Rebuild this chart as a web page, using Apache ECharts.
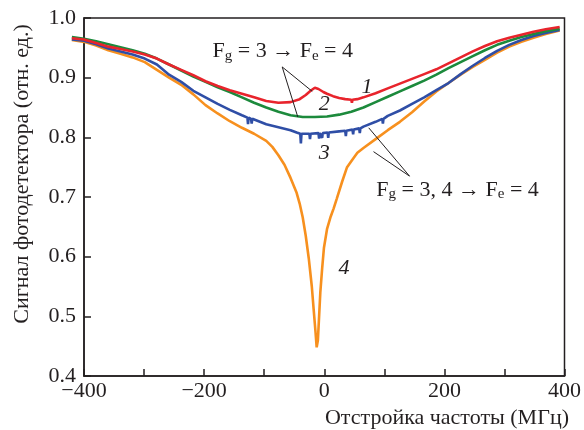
<!DOCTYPE html>
<html>
<head>
<meta charset="utf-8">
<script src="https://cdn.jsdelivr.net/npm/echarts@6/dist/echarts.min.js"></script>
<style>
  html, body { margin: 0; padding: 0; background: #fff; }
  #chart { width: 584px; height: 430px; }
</style>
</head>
<body>
<div id="chart"></div>
<script>
// Detuning (MHz) vs photodetector signal (rel. units), curves 1-4
const curve1 = [
  [-420,0.966],[-400,0.964],[-380,0.958],[-360,0.952],[-340,0.948],[-320,0.944],
  [-300,0.939],[-280,0.932],[-260,0.922],[-240,0.913],[-220,0.904],[-200,0.894],
  [-180,0.886],[-160,0.879],[-140,0.873],[-120,0.867],[-100,0.861],[-80,0.858],
  [-60,0.859],[-45,0.864],[-35,0.871],[-27,0.878],[-20,0.883],[-14,0.881],
  [-6,0.876],[0,0.873],[10,0.869],[20,0.866],[30,0.864],[40,0.863],[41,0.858],
  [42,0.863],[50,0.864],[60,0.867],[80,0.874],[100,0.882],[120,0.890],[140,0.898],
  [160,0.906],[180,0.914],[200,0.924],[220,0.934],[240,0.944],[260,0.953],
  [280,0.961],[300,0.967],[320,0.972],[340,0.977],[360,0.981],[383,0.985]
];
const curve2 = [
  [-420,0.968],[-400,0.965],[-380,0.961],[-360,0.956],[-340,0.951],[-320,0.946],
  [-300,0.940],[-280,0.932],[-260,0.922],[-240,0.912],[-220,0.902],[-200,0.893],
  [-180,0.884],[-160,0.876],[-140,0.867],[-120,0.858],[-100,0.850],[-80,0.843],
  [-60,0.837],[-40,0.834],[-20,0.834],[0,0.835],[20,0.838],[40,0.843],[60,0.850],
  [80,0.859],[100,0.868],[120,0.877],[140,0.886],[160,0.895],[180,0.905],
  [200,0.916],[220,0.926],[240,0.936],[260,0.946],[280,0.955],[300,0.962],
  [320,0.968],[340,0.973],[360,0.978],[383,0.982]
];
const curve3 = [
  [-420,0.964],[-400,0.962],[-380,0.956],[-360,0.949],[-340,0.944],[-320,0.939],
  [-300,0.932],[-280,0.922],[-260,0.905],[-240,0.893],[-220,0.878],[-200,0.867],
  [-180,0.856],[-160,0.846],[-140,0.837],[-131,0.833],[-130,0.822],[-129,0.833],
  [-125,0.831],[-124,0.823],[-123,0.831],[-100,0.822],[-80,0.817],[-60,0.812],
  [-50,0.808],[-44,0.806],[-43,0.790],[-42,0.806],[-29,0.806],[-28,0.797],
  [-27,0.806],[-14,0.807],[-13,0.798],[-12,0.807],[-9,0.807],[-8,0.799],
  [-7,0.807],[1,0.808],[2,0.799],[3,0.808],[20,0.810],[30,0.811],[31,0.802],
  [32,0.811],[42,0.813],[43,0.805],[44,0.813],[53,0.815],[54,0.807],[55,0.815],
  [60,0.818],[80,0.826],[91,0.831],[92,0.823],[93,0.831],[100,0.836],[120,0.845],
  [140,0.856],[160,0.867],[180,0.879],[200,0.891],[220,0.906],[240,0.920],
  [260,0.933],[280,0.945],[300,0.955],[320,0.963],[340,0.970],[360,0.975],[383,0.980]
];
const curve4 = [
  [-420,0.963],[-400,0.960],[-380,0.954],[-360,0.946],[-340,0.940],[-320,0.934],
  [-300,0.926],[-280,0.913],[-260,0.900],[-240,0.888],[-220,0.872],[-200,0.854],
  [-180,0.840],[-160,0.827],[-140,0.816],[-120,0.806],[-100,0.794],[-90,0.784],
  [-80,0.770],[-70,0.754],[-60,0.732],[-50,0.707],[-45,0.689],[-40,0.666],
  [-35,0.635],[-30,0.597],[-25,0.550],[-22,0.512],[-19,0.475],[-17,0.448],
  [-15,0.460],[-13,0.500],[-11,0.540],[-8,0.580],[-5,0.615],[0,0.646],[6,0.667],
  [11,0.681],[16,0.697],[25,0.726],[33,0.750],[42,0.763],[50,0.774],[60,0.782],
  [80,0.797],[100,0.812],[120,0.826],[140,0.842],[160,0.860],[180,0.877],
  [200,0.891],[220,0.905],[240,0.918],[260,0.930],[280,0.942],[300,0.952],
  [320,0.960],[340,0.967],[360,0.973],[383,0.979]
];
const xTicks = [-400, -200, 0, 200, 400];
const curveNames = ['1', '2', '3', '4'];
const curveColors = ['#e8242c', '#1c8a3c', '#2f4ea6', '#f7901e'];

const serif = '"Liberation Serif", "DejaVu Serif", serif';
const ink = '#231f20';

// Frame geometry: the visible axes run from -400 to 400 MHz; the traces start
// a little before -400, so they are drawn on a twin grid whose x range begins
// at -420 with exactly the same pixels-per-MHz scale.
const frame = { left: 84, right: 14, top: 18, bottom: 54 };
const xMin = -400, xMax = 400, traceStart = -420;
const plotWidth = 584 - frame.left - frame.right;
const pxPerMHz = plotWidth / (xMax - xMin);

const chart = echarts.init(document.getElementById('chart'), null, { renderer: 'canvas' });

// Curve 4 at the bottom of the stack, curve 1 on top
const seriesData = [curve4, curve3, curve2, curve1];
const seriesColors = [curveColors[3], curveColors[2], curveColors[1], curveColors[0]];
const seriesNames = [curveNames[3], curveNames[2], curveNames[1], curveNames[0]];

const tickFont = { color: ink, fontFamily: serif, fontSize: 22 };

chart.setOption({
  animation: false,
  backgroundColor: '#fff',
  grid: [
    Object.assign({ show: true, borderColor: ink, borderWidth: 1.5, backgroundColor: 'transparent' }, frame),
    {
      left: frame.left - (xMin - traceStart) * pxPerMHz,
      right: frame.right, top: frame.top, bottom: frame.bottom, show: false
    }
  ],
  xAxis: [
    {
      type: 'value', gridIndex: 0, min: xMin, max: xMax, interval: 100,
      axisLine: { show: true, onZero: false, lineStyle: { color: ink, width: 1.5 } },
      axisTick: { inside: true, length: 7, lineStyle: { color: ink, width: 1.5 } },
      splitLine: { show: false },
      axisLabel: Object.assign({
        margin: 4,
        formatter: v => xTicks.includes(v) ? String(v).replace('-', '\u2212') : ''
      }, tickFont)
    },
    { type: 'value', gridIndex: 1, min: traceStart, max: xMax, show: false }
  ],
  yAxis: [
    {
      type: 'value', gridIndex: 0, min: 0.4, max: 1.0, interval: 0.1,
      axisLine: { show: true, onZero: false, lineStyle: { color: ink, width: 1.5 } },
      axisTick: { inside: true, length: 7, lineStyle: { color: ink, width: 1.5 } },
      splitLine: { show: false },
      axisLabel: Object.assign({ margin: 8, formatter: v => v.toFixed(1) }, tickFont)
    },
    { type: 'value', gridIndex: 1, min: 0.4, max: 1.0, show: false }
  ],
  series: seriesData.map((d, i) => ({
    type: 'line', name: seriesNames[i], data: d,
    xAxisIndex: 1, yAxisIndex: 1,
    showSymbol: false, clip: false, smooth: false,
    lineStyle: { color: seriesColors[i], width: 2.6 },
    z: 2 + i
  }))
});

// Annotations placed in data coordinates
const px = (x, y) => chart.convertToPixel({ gridIndex: 0 }, [x, y]);

const rich = {
  m: { fontFamily: serif, fontSize: 22, color: ink, lineHeight: 24 },
  s: { fontFamily: serif, fontSize: 15, color: ink, lineHeight: 8, verticalAlign: 'bottom' }
};

function textAt(x, y, text, opts) {
  const p = px(x, y);
  return {
    type: 'text', x: p[0], y: p[1], z: 20,
    style: Object.assign({
      text: text, align: 'center', verticalAlign: 'middle',
      fontFamily: serif, fontSize: 22, fill: ink
    }, opts || {})
  };
}
function lineAt(a, b) {
  const p1 = px(a[0], a[1]), p2 = px(b[0], b[1]);
  return {
    type: 'line', z: 20,
    shape: { x1: p1[0], y1: p1[1], x2: p2[0], y2: p2[1] },
    style: { stroke: ink, lineWidth: 1 }
  };
}

const gridRight = 584 - frame.right;

chart.setOption({
  graphic: [
    textAt(-69, 0.944, '{m|F}{s|g}{m| = 3 \u2192 F}{s|e}{m| = 4}', { rich: rich }),
    lineAt([-70, 0.918], [-44, 0.834]),
    lineAt([-70, 0.918], [-20, 0.877]),
    textAt(222, 0.712, '{m|F}{s|g}{m| = 3, 4 \u2192 F}{s|e}{m| = 4}', { rich: rich }),
    lineAt([142, 0.735], [74, 0.816]),
    lineAt([142, 0.735], [82, 0.776]),
    textAt(71, 0.884, '1', { fontStyle: 'italic' }),
    textAt(0, 0.856, '2', { fontStyle: 'italic' }),
    textAt(0, 0.774, '3', { fontStyle: 'italic' }),
    textAt(33, 0.581, '4', { fontStyle: 'italic' }),
    {
      type: 'text', z: 20,
      x: gridRight - 1, y: 418,
      style: {
        text: 'Отстройка частоты (МГц)', align: 'right', verticalAlign: 'middle',
        fontFamily: serif, fontSize: 22, fill: ink
      }
    },
    {
      type: 'text', z: 20,
      x: 22, y: 174, rotation: Math.PI / 2,
      style: {
        text: 'Сигнал фотодетектора (отн. ед.)', align: 'center', verticalAlign: 'middle',
        fontFamily: serif, fontSize: 22, fill: ink
      }
    }
  ]
});
</script>
</body>
</html>
